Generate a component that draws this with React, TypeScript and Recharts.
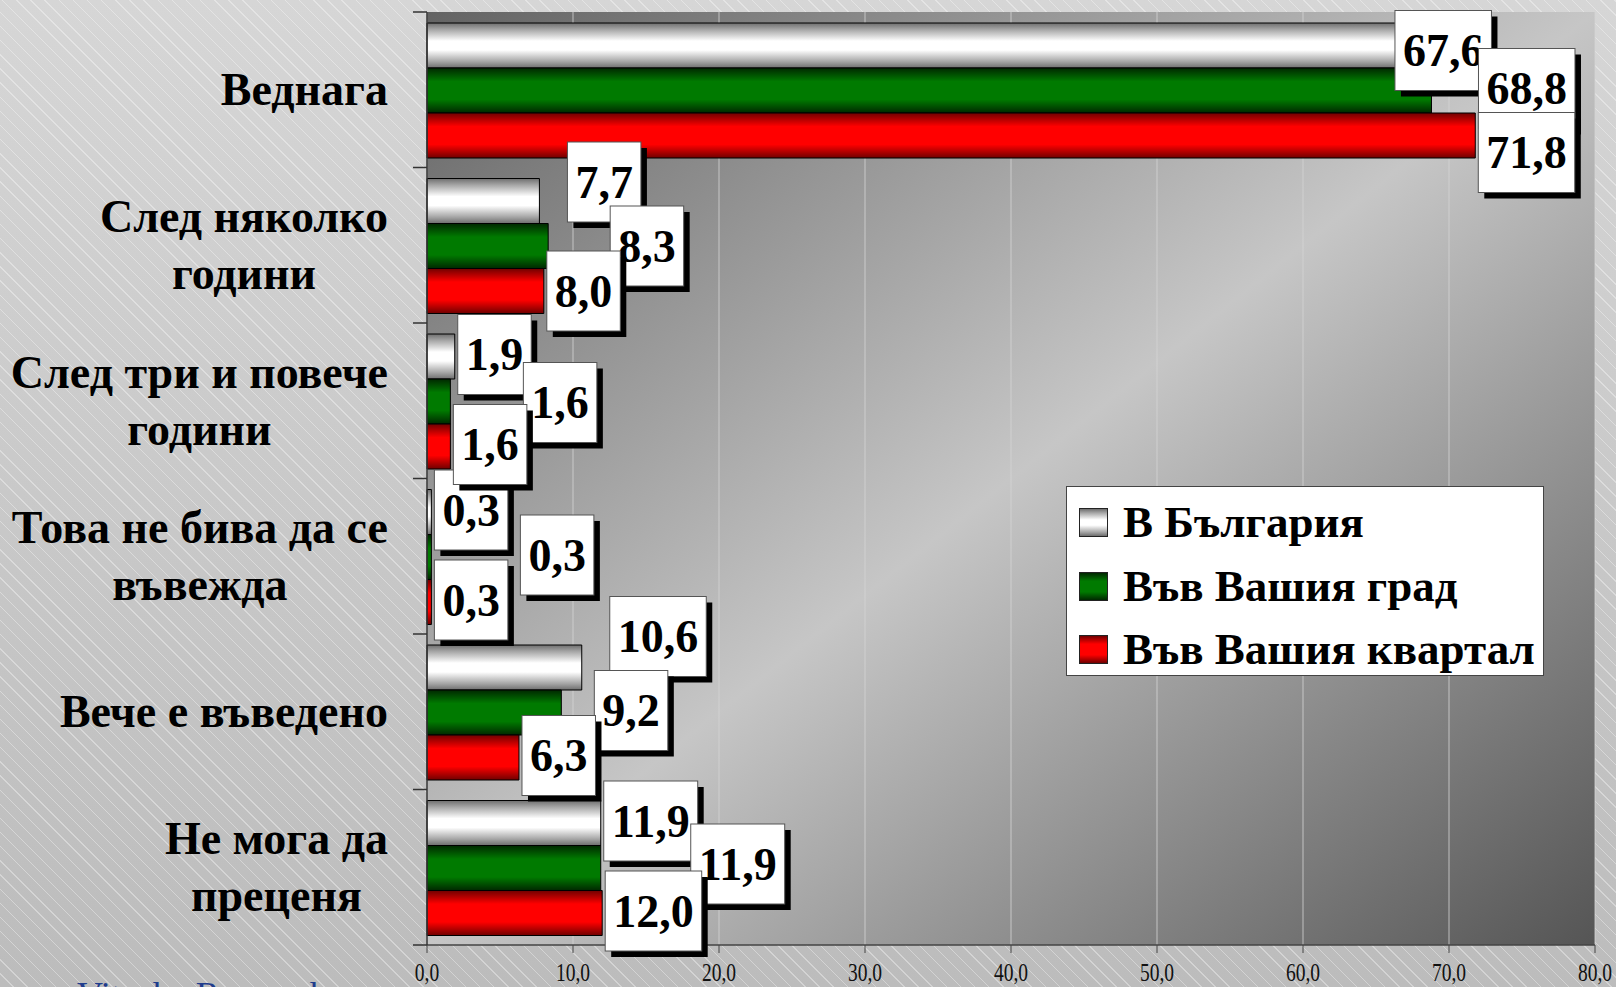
import React from 'react';
import { BarChart, Bar, XAxis, YAxis, CartesianGrid, Legend, LabelList } from 'recharts';

const categories = [
  'Веднага',
  'След няколко\nгодини',
  'След три и повече\nгодини',
  'Това не бива да се\nвъвежда',
  'Вече е въведено',
  'Не мога да\nпреценя',
];
const bulgaria = [67.6, 7.7, 1.9, 0.3, 10.6, 11.9];
const city = [68.8, 8.3, 1.6, 0.3, 9.2, 11.9];
const district = [71.8, 8.0, 1.6, 0.3, 6.3, 12.0];
const seriesNames = ['В България', 'Във Вашия град', 'Във Вашия квартал'];
const xTicks = [0, 10, 20, 30, 40, 50, 60, 70, 80];

// hand-placed label nudges (px) as in the original slide: [dx, dy]
const bulgariaNudge = [[-22, 7], [25, -17], [0, 0], [0, 0], [25, -29], [0, 0]];
const cityNudge = [[44, 0], [59, 2], [70, 3], [86, 0], [30, 0], [87, -2]];
const districtNudge = [[0, 19], [0, 2], [0, 0], [0, 0], [0, 0], [0, 0]];

const data = categories.map((name, i) => ({
  name,
  bulgaria: bulgaria[i],
  city: city[i],
  district: district[i],
}));

const W = 1616;
const H = 987;
const AXIS_X = 427;
const TOP = 12;
const X_AXIS_H = 42;
const PLOT_H = H - TOP - X_AXIS_H;
const LABEL_RIGHT = 388;
const SERIF = "'Liberation Serif', 'Times New Roman', serif";
const CAT_FONT = `bold 46px ${SERIF}`;
const VAL_FONT = `bold 46px ${SERIF}`;

let ctx: CanvasRenderingContext2D | null = null;
function textWidth(s: string, font: string) {
  if (!ctx) ctx = document.createElement('canvas').getContext('2d');
  if (!ctx) return s.length * 20;
  ctx.font = font;
  return ctx.measureText(s).width;
}

const fmt = (v: number) => v.toFixed(1).replace('.', ',');

const CategoryTick = (props: any) => {
  const { y, payload } = props;
  const index = props.index ?? payload.index;
  const lines = String(payload.value).split('\n');
  const maxW = Math.max(...lines.map((l) => textWidth(l, CAT_FONT)));
  const cx = LABEL_RIGHT - maxW / 2;
  const band = PLOT_H / categories.length;
  const top = y - band / 2;
  return (
    <g>
      <line x1={AXIS_X - 14} x2={AXIS_X} y1={top} y2={top} stroke="#333" strokeWidth={1.5} />
      {index === categories.length - 1 && (
        <line x1={AXIS_X - 14} x2={AXIS_X} y1={top + band} y2={top + band} stroke="#333" strokeWidth={1.5} />
      )}
      {lines.map((l, i) => (
        <text
          key={i}
          x={cx}
          y={y + (i - (lines.length - 1) / 2) * 57}
          textAnchor="middle"
          dominantBaseline="central"
          fontFamily={SERIF}
          fontWeight="bold"
          fontSize={46}
          fill="#000"
        >
          {l}
        </text>
      ))}
    </g>
  );
};

const ValueTick = (props: any) => {
  const { x, y, payload } = props;
  return (
    <g transform={`translate(${x},${y})`}>
      <text transform="scale(0.78,1)" textAnchor="middle" y={26} fontFamily={SERIF} fontSize={25} fill="#111">
        {fmt(payload.value)}
      </text>
    </g>
  );
};

const makeLabel = (nudge: number[][]) => (props: any) => {
  const { x, y, width, height, value, index } = props;
  const text = fmt(Number(value));
  const w = textWidth(text, VAL_FONT) + 16;
  const h = 80;
  const left = Number(x) + Number(width) + 3 + nudge[index][0];
  const cy = Number(y) + Number(height) / 2 - 2 + nudge[index][1];
  const top = cy - h / 2;
  return (
    <g>
      <rect x={left + 6} y={top + 6} width={w} height={h} fill="#000" />
      <rect x={left} y={top} width={w} height={h} fill="#fff" stroke="#555" strokeWidth={1} />
      <text
        x={left + w / 2}
        y={cy}
        textAnchor="middle"
        dominantBaseline="central"
        fontFamily={SERIF}
        fontWeight="bold"
        fontSize={46}
        fill="#000"
      >
        {text}
      </text>
    </g>
  );
};

const swatches = [
  'linear-gradient(to bottom, #6e6e6e, #a8a8a8 15%, #fff 40%, #fff 60%, #a8a8a8 85%, #6e6e6e)',
  'linear-gradient(to bottom, #002800, #007a00 30%, #007a00 70%, #002800)',
  'linear-gradient(to bottom, #700000, #ff0000 30%, #ff0000 70%, #700000)',
];

const LegendBox = () => (
  <div
    style={{
      width: 478,
      height: 190,
      boxSizing: 'border-box',
      background: '#fff',
      border: '1px solid #444',
      paddingTop: 4,
    }}
  >
    {seriesNames.map((n, i) => (
      <div key={n} style={{ height: 63.5, display: 'flex', alignItems: 'center' }}>
        <div
          style={{
            width: 29,
            height: 29,
            flexShrink: 0,
            boxSizing: 'border-box',
            border: '1.5px solid #222',
            background: swatches[i],
            marginLeft: 12,
          }}
        />
        <span
          style={{
            marginLeft: 15,
            fontFamily: SERIF,
            fontWeight: 'bold',
            fontSize: 45,
            lineHeight: 1,
            color: '#000',
            whiteSpace: 'nowrap',
          }}
        >
          {n}
        </span>
      </div>
    ))}
  </div>
);

export default function App() {
  return (
    <div
      style={{
        position: 'relative',
        width: W,
        height: H,
        overflow: 'hidden',
        background:
          'repeating-linear-gradient(45deg, rgba(255,255,255,0) 0 9px, rgba(255,255,255,0.35) 9px 10px), linear-gradient(to bottom, #d6d6d6, #bcbcbc)',
      }}
    >
      <style>{'body{margin:0}'}</style>
      <BarChart
        width={W}
        height={H}
        data={data}
        layout="vertical"
        margin={{ top: TOP, right: 21, bottom: 0, left: 0 }}
        barCategoryGap={11}
        barGap={0}
      >
        <defs>
          <linearGradient id="plotBg" x1="0" y1="0" x2="1" y2="1">
            <stop offset="0" stopColor="#636363" />
            <stop offset="0.5" stopColor="#c6c6c6" />
            <stop offset="1" stopColor="#555555" />
          </linearGradient>
          <linearGradient id="gWhite" x1="0" y1="0" x2="0" y2="1">
            <stop offset="0" stopColor="#6e6e6e" />
            <stop offset="0.15" stopColor="#a8a8a8" />
            <stop offset="0.4" stopColor="#ffffff" />
            <stop offset="0.6" stopColor="#ffffff" />
            <stop offset="0.85" stopColor="#a8a8a8" />
            <stop offset="1" stopColor="#6e6e6e" />
          </linearGradient>
          <linearGradient id="gGreen" x1="0" y1="0" x2="0" y2="1">
            <stop offset="0" stopColor="#002800" />
            <stop offset="0.3" stopColor="#007a00" />
            <stop offset="0.7" stopColor="#007a00" />
            <stop offset="1" stopColor="#002800" />
          </linearGradient>
          <linearGradient id="gRed" x1="0" y1="0" x2="0" y2="1">
            <stop offset="0" stopColor="#700000" />
            <stop offset="0.3" stopColor="#ff0000" />
            <stop offset="0.7" stopColor="#ff0000" />
            <stop offset="1" stopColor="#700000" />
          </linearGradient>
        </defs>
        <CartesianGrid horizontal={false} stroke="#d4d4d4" strokeOpacity={0.8} fill="url(#plotBg)" fillOpacity={1} />
        <XAxis
          type="number"
          domain={[0, 80]}
          ticks={xTicks}
          height={X_AXIS_H}
          tickSize={8}
          tickMargin={2}
          tick={<ValueTick />}
          axisLine={{ stroke: '#444', strokeWidth: 1.5 }}
          tickLine={{ stroke: '#444' }}
        />
        <YAxis
          type="category"
          dataKey="name"
          width={AXIS_X}
          tick={<CategoryTick />}
          tickLine={false}
          axisLine={{ stroke: '#333', strokeWidth: 1.5 }}
          interval={0}
        />
        <Legend
          layout="horizontal"
          verticalAlign="middle"
          align="center"
          wrapperStyle={{ left: 1066, top: 486, width: 478, height: 190 }}
          content={<LegendBox />}
        />
        <Bar dataKey="bulgaria" name={seriesNames[0]} fill="url(#gWhite)" stroke="#000" strokeWidth={1} isAnimationActive={false}>
          <LabelList dataKey="bulgaria" content={makeLabel(bulgariaNudge)} />
        </Bar>
        <Bar dataKey="city" name={seriesNames[1]} fill="url(#gGreen)" stroke="#000" strokeWidth={1} isAnimationActive={false}>
          <LabelList dataKey="city" content={makeLabel(cityNudge)} />
        </Bar>
        <Bar dataKey="district" name={seriesNames[2]} fill="url(#gRed)" stroke="#000" strokeWidth={1} isAnimationActive={false}>
          <LabelList dataKey="district" content={makeLabel(districtNudge)} />
        </Bar>
      </BarChart>
      <div
        style={{
          position: 'absolute',
          left: 77,
          top: 977,
          fontFamily: SERIF,
          fontSize: 36,
          lineHeight: '36px',
          color: '#1f3c8c',
          whiteSpace: 'nowrap',
        }}
      >
        Vitosha Research
      </div>
    </div>
  );
}
